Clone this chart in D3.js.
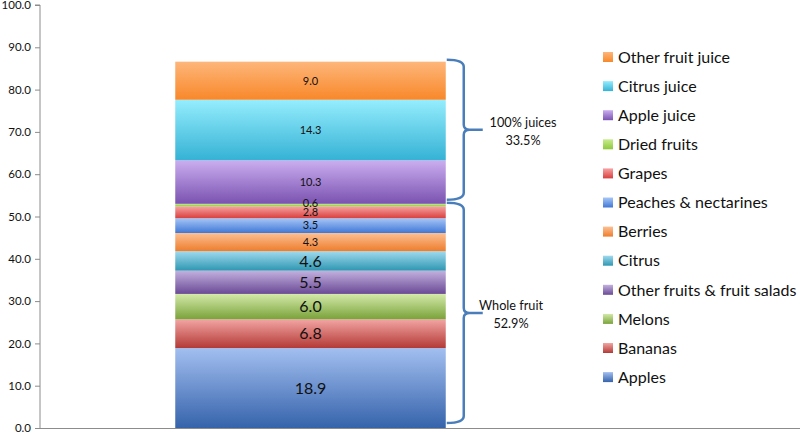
<!DOCTYPE html>
<html>
<head>
<meta charset="utf-8">
<script src="https://cdn.jsdelivr.net/npm/d3@7"></script>
<style>
  body { margin: 0; background: #fff; }
  text { font-family: Lato, "Open Sans", sans-serif; fill: #111; }
</style>
</head>
<body>
<script>
// data, bottom of the stack first
var categories = ["Apples", "Bananas", "Melons", "Other fruits & fruit salads", "Citrus",
  "Berries", "Peaches & nectarines", "Grapes", "Dried fruits",
  "Apple juice", "Citrus juice", "Other fruit juice"];
var values = [18.9, 6.8, 6.0, 5.5, 4.6, 4.3, 3.5, 2.8, 0.6, 10.3, 14.3, 9.0];
var yTicks = [0, 10, 20, 30, 40, 50, 60, 70, 80, 90, 100];
var groupNames = ["Whole fruit", "100% juices"];
var groupShares = ["52.9%", "33.5%"];
var groupSizes = [9, 3];

// light (top) / dark (bottom) gradient stops
var colors = [
  ["#a3bff0", "#3563ab"], ["#f2a5a3", "#b33a36"], ["#d4eaa9", "#7aa23a"],
  ["#c3b1df", "#6a4a95"], ["#9fdaee", "#2f97b2"], ["#fcc094", "#ee7d2c"],
  ["#a7c6f7", "#3f78d6"], ["#f7a3a3", "#d8403e"], ["#c9ec8e", "#8ec83c"],
  ["#cbaef0", "#7a52b0"], ["#95edfd", "#35b2d5"], ["#fdb67a", "#f8882a"]
];

var w = 800, h = 433;
var svg = d3.select("body").append("svg").attr("width", w).attr("height", h);

var y = d3.scaleLinear().domain([0, 100]).range([428, 5]);
var x = d3.scaleBand().domain(["all"]).range([40, 581]).paddingInner(0).paddingOuter(0.5);

// gradients
var defs = svg.append("defs");
colors.forEach(function(c, i) {
  var g = defs.append("linearGradient").attr("id", "g" + i)
    .attr("x1", 0).attr("y1", 0).attr("x2", 0).attr("y2", 1);
  g.append("stop").attr("offset", "0%").attr("stop-color", c[0]);
  g.append("stop").attr("offset", "100%").attr("stop-color", c[1]);
});

// stacked segments
var stack = [];
var acc = 0;
values.forEach(function(v, i) {
  stack.push({ name: categories[i], v: v, y0: acc, y1: acc + v, i: i });
  acc += v;
});

//Axis
var yAxis = d3.axisLeft(y).tickValues(yTicks).tickFormat(d3.format(".1f")).tickSize(5).tickPadding(4);
var ga = svg.append("g").attr("transform", "translate(40,0)").call(yAxis);
ga.select(".domain").attr("stroke", "#8c8c8c").attr("d", "M-5,5H0V428.5H-5");
ga.selectAll(".tick line").attr("stroke", "#8c8c8c");
ga.selectAll(".tick text").style("font-size", "11.5px").style("font-family", "Lato, sans-serif").attr("fill", "#222");
svg.append("line").attr("x1", 40).attr("x2", 800).attr("y1", 428.5).attr("y2", 428.5)
  .attr("stroke", "#8c8c8c");

var bx = x("all"), bw = x.bandwidth();

svg.selectAll("rect.seg").data(stack).enter().append("rect")
  .attr("class", "seg")
  .attr("x", bx).attr("width", bw)
  .attr("y", function(d) { return y(d.y1); })
  .attr("height", function(d) { return y(d.y0) - y(d.y1); })
  .attr("fill", function(d) { return "url(#g" + d.i + ")"; });

svg.selectAll("text.val").data(stack).enter().append("text")
  .attr("class", "val")
  .attr("x", bx + bw / 2)
  .attr("y", function(d) { return (y(d.y0) + y(d.y1)) / 2; })
  .attr("dy", function(d) { return d.v < 1 ? "0.15em" : "0.35em"; })
  .attr("text-anchor", "middle")
  .style("font-size", function(d) { return d.i < 5 ? "16px" : "11px"; })
  .text(function(d) { return d.v.toFixed(1); });

// braces
var bStart = 0;
var braces = groupNames.map(function(n, k) {
  var lo = d3.sum(values.slice(0, bStart));
  var hi = d3.sum(values.slice(0, bStart + groupSizes[k]));
  bStart += groupSizes[k];
  return { name: n, share: groupShares[k], lo: lo, hi: hi, k: k };
});

var x0 = bx + bw + 1, x1 = x0 + 17, xt = x0 + 36;
braces.forEach(function(b) {
  var top = b.k === 0 ? y(b.hi) - 1 : y(b.hi) - 2;
  var bot = b.k === 0 ? y(b.lo) - 5 : y(b.lo) - 4;
  var ym = (top + bot) / 2;
  var p = "M" + x0 + "," + top +
    "Q" + x1 + "," + top + " " + x1 + "," + (top + 7) +
    "V" + (ym - 5) +
    "Q" + x1 + "," + ym + " " + (x1 + 6) + "," + ym +
    "H" + xt +
    "M" + (x1 + 6) + "," + ym +
    "Q" + x1 + "," + ym + " " + x1 + "," + (ym + 5) +
    "V" + (bot - 7) +
    "Q" + x1 + "," + bot + " " + x0 + "," + bot;
  svg.append("path").attr("d", p).attr("fill", "none")
    .attr("stroke", "#4a7ebb").attr("stroke-width", 2.5);
  var tx = b.k === 1 ? 523 : 511;
  svg.append("text").attr("x", tx).attr("y", ym - 3).attr("text-anchor", "middle")
    .style("font-size", "12.7px").text(b.name);
  svg.append("text").attr("x", tx).attr("y", ym + 15).attr("text-anchor", "middle")
    .style("font-size", "12.7px").text(b.share);
});

// legend, top of stack first
var leg = stack.slice().reverse();
var lg = svg.selectAll("g.leg").data(leg).enter().append("g")
  .attr("class", "leg")
  .attr("transform", function(d, j) { return "translate(603," + (57 + j * 29.1) + ")"; });
lg.append("rect").attr("x", 0).attr("y", -5).attr("width", 10).attr("height", 10)
  .attr("fill", function(d) { return "url(#g" + d.i + ")"; });
lg.append("text").attr("x", 15).attr("dy", "0.36em").style("font-size", "16px")
  .text(function(d) { return d.name; });
</script>
</body>
</html>
